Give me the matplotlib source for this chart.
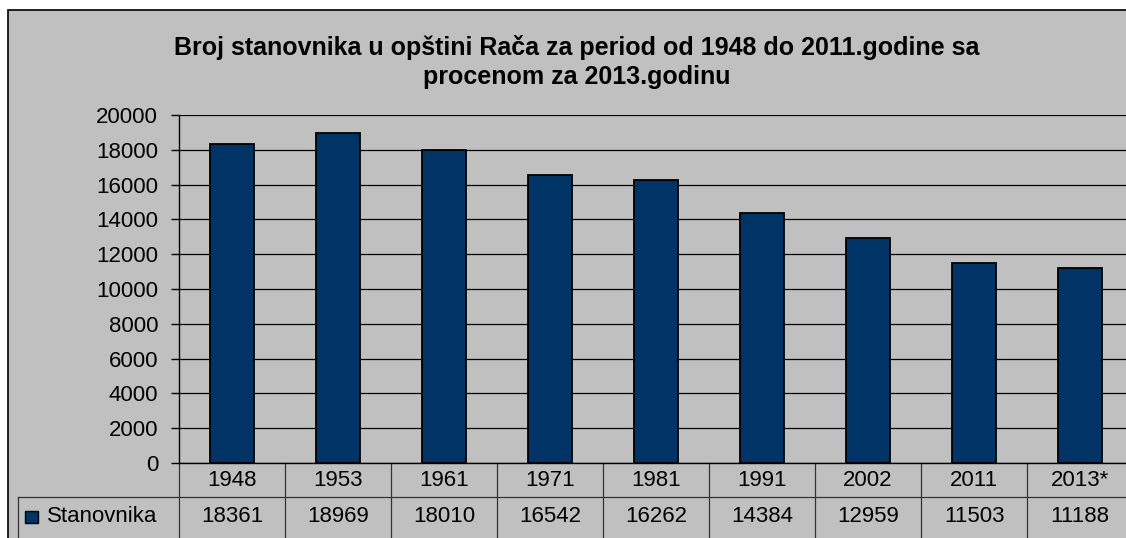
import matplotlib.pyplot as plt
import matplotlib.transforms as mtransforms
from matplotlib.patches import Rectangle

# podaci
godine = ['1948', '1953', '1961', '1971', '1981', '1991', '2002', '2011', '2013*']
stanovnika = [18361, 18969, 18010, 16542, 16262, 14384, 12959, 11503, 11188]
y_ticks = [0, 2000, 4000, 6000, 8000, 10000, 12000, 14000, 16000, 18000, 20000]
naslov = 'Broj stanovnika u opštini Rača za period od 1948 do 2011.godine sa\nprocenom za 2013.godinu'
serija = 'Stanovnika'

plt.rcParams['font.family'] = ['Liberation Sans', 'DejaVu Sans']

W, H = 1126, 538
fig = plt.figure(figsize=(W / 100, H / 100), dpi=100)
fig.patch.set_facecolor('white')

# siva pozadina grafikona
fig.patches.append(Rectangle((8 / W, -0.1), 1.2, (H - 10) / H + 0.1, transform=fig.transFigure,
                             facecolor='#c0c0c0', edgecolor='black', linewidth=1.2, zorder=-5))

ax = fig.add_axes([179 / W, (H - 463) / H, (1133 - 179) / W, (463 - 115) / H])
ax.set_facecolor('none')
ax.set_zorder(2)
x = range(len(godine))
ax.bar(x, stanovnika, width=0.42, color='#003366', edgecolor='black', linewidth=1.3, zorder=3)

ax.set_xlim(-0.5, len(godine) - 0.5)
ax.set_ylim(0, 20000)
ax.set_yticks(y_ticks)
ax.set_yticklabels([str(v) for v in y_ticks], fontsize=16)
ax.tick_params(axis='y', direction='out', length=6, width=1, pad=9)
ax.set_xticks([])
ax.yaxis.grid(True, color='black', linewidth=0.9)
ax.set_axisbelow(True)
for s in ['top', 'right']:
    ax.spines[s].set_visible(False)
ax.spines['left'].set_linewidth(1)
ax.spines['bottom'].set_linewidth(1)

# tabela podataka
tr = mtransforms.blended_transform_factory(ax.transData, ax.transAxes)
row1 = -34 / 348
lk = dict(color='#333333', linewidth=0.9, transform=tr, clip_on=False)
for i in range(len(godine) + 1):
    ax.plot([i - 0.5, i - 0.5], [0, -0.3], **lk)
left = -0.5 + (18 - 179) / 106
ax.plot([left, len(godine)], [row1, row1], **lk)
ax.plot([left, left], [row1, -0.3], **lk)
for i, (g, v) in enumerate(zip(godine, stanovnika)):
    ax.text(i, -17 / 348, g, ha='center', va='center', fontsize=16, transform=tr)
    ax.text(i, -54 / 348, str(v), ha='center', va='center', fontsize=16, transform=tr)
ax.add_patch(Rectangle((-0.5 + (25 - 179) / 106, -60 / 348), 13 / 106, 12 / 348, transform=tr,
                       facecolor='#003366', edgecolor='black', linewidth=1, clip_on=False))
ax.text(-0.5 + (47 - 179) / 106, -54 / 348, serija, ha='left', va='center', fontsize=16, transform=tr)

fig.text(577 / W, (H - 62) / H, naslov, ha='center', va='center', fontsize=18,
         fontweight='bold', linespacing=1.3)

plt.savefig('out.png', dpi=100)
